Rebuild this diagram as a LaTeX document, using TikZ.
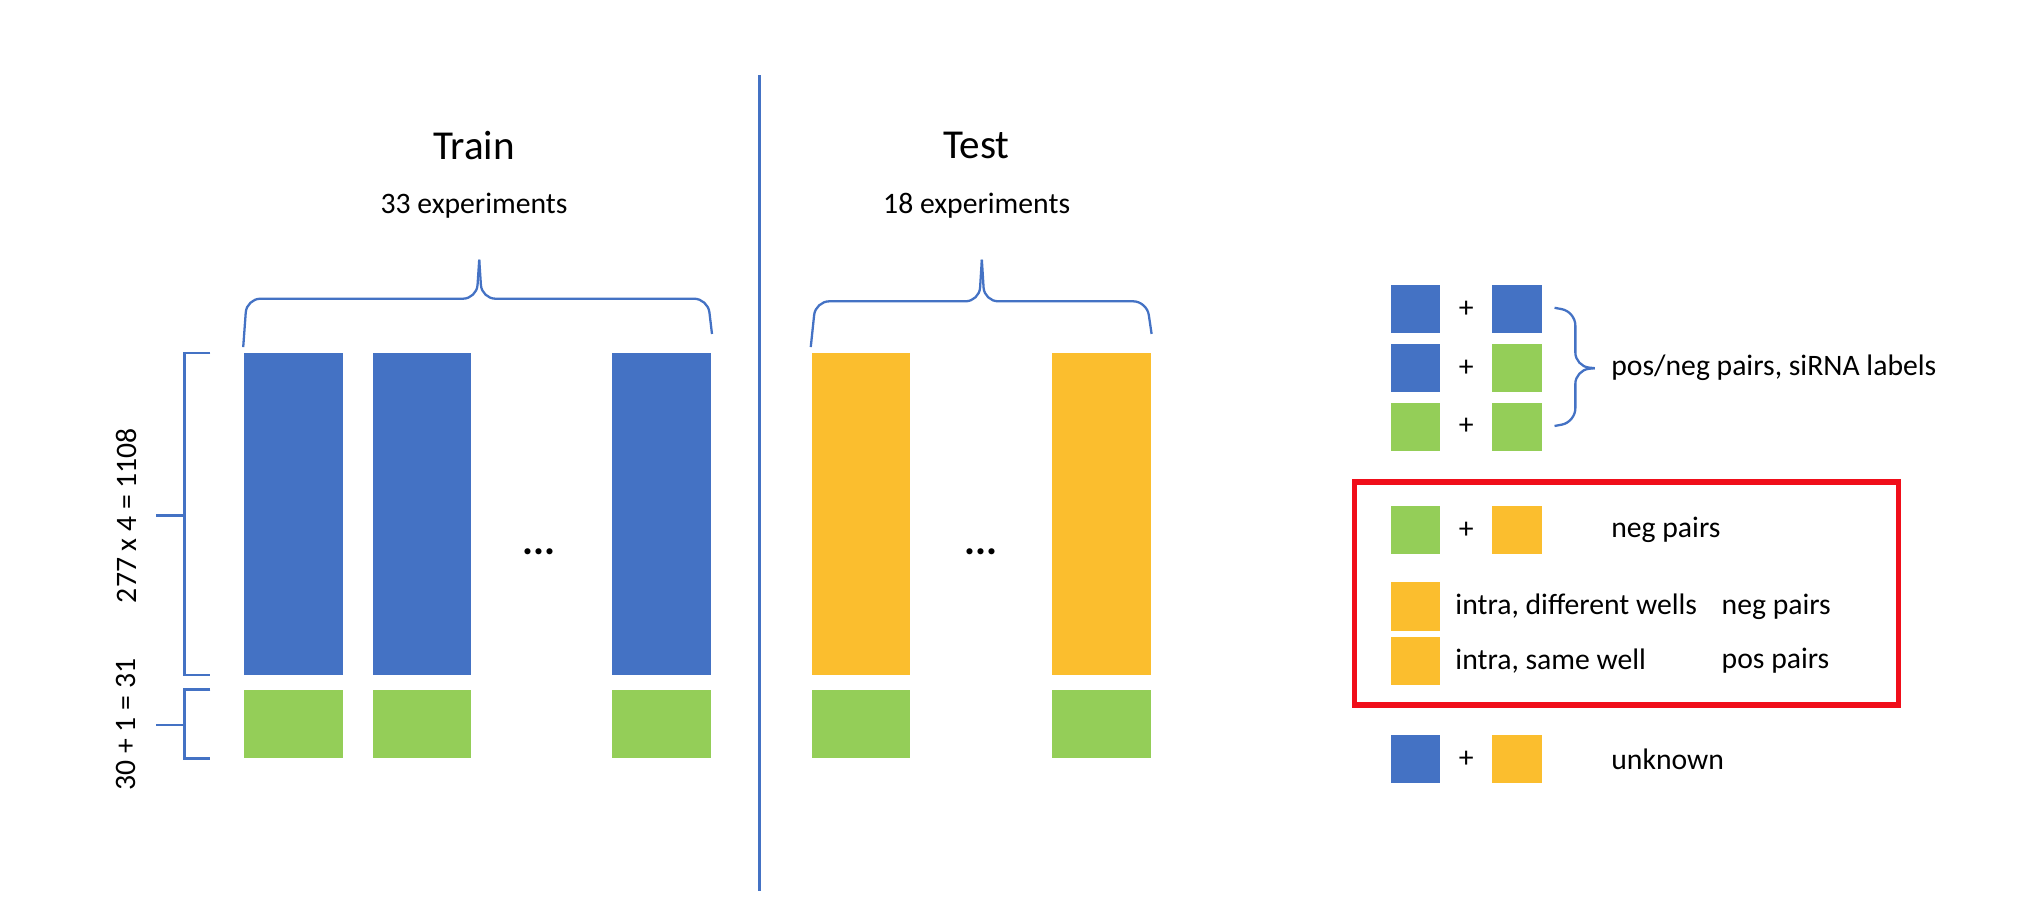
\documentclass[tikz,border=0pt]{standalone}
\usepackage{fontspec}
\setmainfont{Carlito}
\usetikzlibrary{positioning}
\definecolor{barblue}{HTML}{4472C4}
\definecolor{bargreen}{HTML}{94CE58}
\definecolor{baryellow}{HTML}{FBBE2E}
\definecolor{boxred}{HTML}{F00E1A}
\tikzset{
  bar/.style={inner sep=0pt, minimum width=0.76cm},
  tall/.style={bar, minimum height=2.48cm},
  short/.style={bar, minimum height=0.53cm},
  sq/.style={inner sep=0pt, minimum width=0.38cm, minimum height=0.37cm},
  brc/.style={draw=barblue, line width=0.5pt, rounded corners=3pt},
  lbl/.style={font=\fontsize{6.5}{7}\selectfont, anchor=west, inner sep=0pt}
}
\begin{document}
\begin{tikzpicture}[x=0.01cm,y=-0.01cm]
  \useasboundingbox (0,0) rectangle (1560,694);
  % divider
  \coordinate (dtop) at (585,58);
  \coordinate (dbot) at (585,686);
  \draw[barblue, line width=0.6pt] (dtop) -- (dbot);

  % titles
  \node[font=\fontsize{9}{10}\selectfont] (train) at (365,112) {Train};
  \node[font=\fontsize{6.5}{7}\selectfont] (trainn) at (365,158) {33 experiments};
  \node[font=\fontsize{9}{10}\selectfont] (test) at (752,112) {Test};
  \node[font=\fontsize{6.5}{7}\selectfont] (testn) at (752,158) {18 experiments};

  % train bars
  \foreach \i/\x in {1/226,2/325,3/509.5} {
    \node[tall, fill=barblue] (tb\i) at (\x,396) {};
    \node[short, fill=bargreen] (tg\i) at (\x,557.5) {};
  }
  \node[font=\bfseries\fontsize{9}{10}\selectfont] (tdots) at (415,425) {...};

  % test bars
  \foreach \i/\x in {1/663,2/848} {
    \node[tall, fill=baryellow] (sb\i) at (\x,396) {};
    \node[short, fill=bargreen] (sg\i) at (\x,557.5) {};
  }
  \node[font=\bfseries\fontsize{9}{10}\selectfont] (sdots) at (755,425) {...};

  % top braces
  \draw[brc] (tb1.north west) ++(0,-4) -- (190,230) -- (367,230) -- (369,200);
  \draw[brc] (369,200) -- (371,230) -- (545,230) -- ([yshift=4]tb3.north east);
  \draw[brc] (sb1.north west) ++(0,-4) -- (628,232) -- (754,232) -- (756,200);
  \draw[brc] (756,200) -- (758,232) -- (883,232) -- ([yshift=4]sb2.north east);

  % side braces
  \draw[barblue, line width=0.5pt] (162,272) -- (142,272) -- (142,520) -- (162,520)
    (142,397) -- (120,397);
  \draw[barblue, line width=0.5pt] (162,531) -- (142,531) -- (142,584) -- (162,584)
    (142,558) -- (120,558);
  \node[rotate=90, font=\fontsize{6.5}{7}\selectfont] (rows) at (97,397) {277 x 4 = 1108};
  \node[rotate=90, font=\fontsize{6.5}{7}\selectfont] (ctrl) at (97,558) {30 + 1 = 31};

  % legend
  \foreach \n/\y/\ca/\cb in {a/238/barblue/barblue, b/283.5/barblue/bargreen,
      c/328.5/bargreen/bargreen, d/408/bargreen/baryellow, u/584.5/barblue/baryellow} {
    \node[sq, fill=\ca] (l\n1) at (1090,\y) {};
    \node[sq, fill=\cb] (l\n2) at (1168,\y) {};
    \node[font=\fontsize{6.5}{7}\selectfont] (p\n) at (1129,\y) {+};
  }
  \draw[brc] (1197,237) -- (1213,240) -- (1213,282) -- (1228,283.5);
  \draw[brc] (1228,283.5) -- (1213,285) -- (1213,325) -- (1197,328);
  \node[lbl] (posneg) at (1240,283.5) {pos/neg pairs, siRNA labels};

  \node[sq, fill=baryellow] (le) at (1090,467) {};
  \node[sq, fill=baryellow] (lf) at (1090,509) {};
  \node[lbl] (negd) at (1240,408) {neg pairs};
  \node[lbl] (diffw) at (1120,467) {intra, different wells};
  \node[lbl] (neg2) at (1325,467) {neg pairs};
  \node[lbl] (samew) at (1120,509) {intra, same well};
  \node[lbl] (pos2) at (1325,509) {pos pairs};
  \node[lbl] (unk) at (1240,584.5) {unknown};

  \draw[boxred, line width=1.2pt] (1043,371) rectangle (1462,543);
\end{tikzpicture}
\end{document}
